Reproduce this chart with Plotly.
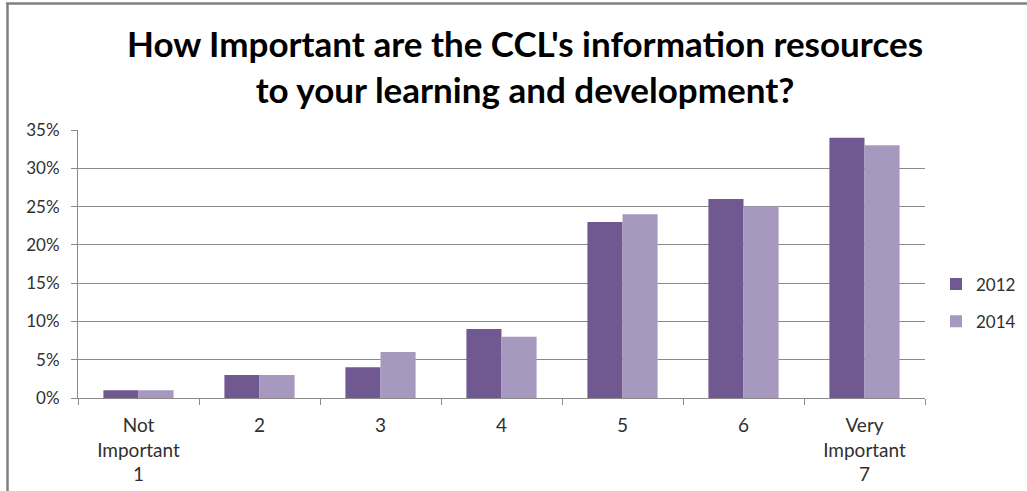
import plotly.graph_objects as go

categories = ["Not<br>Important<br>1", "2", "3", "4", "5", "6", "Very<br>Important<br>7"]
values_2012 = [1, 3, 4, 9, 23, 26, 34]
values_2014 = [1, 3, 6, 8, 24, 25, 33]
y_ticks = [0, 5, 10, 15, 20, 25, 30, 35]
y_tick_labels = [f"{v}%" for v in y_ticks]
title_text = "How Important are the CCL's information resources<br>to your learning and development?"

FONT = "Lato, Open Sans, sans-serif"
TXT = "#303030"

fig = go.Figure()
fig.add_trace(go.Bar(name="2012", x=categories, y=values_2012, marker_color="#705891",
                     marker_line_width=0, legendgroup="a"))
fig.add_trace(go.Bar(name="2014", x=categories, y=values_2014, marker_color="#A798C0",
                     marker_line_width=0, legendgroup="b"))

L, R, T, B = 78, 102, 130, 93
W, H = 1027, 491
pw, ph = W - L - R, H - T - B

fig.update_layout(
    width=W, height=H,
    margin=dict(l=L, r=R, t=T, b=B, pad=0, autoexpand=False),
    paper_bgcolor="white", plot_bgcolor="white",
    barmode="group", bargap=0.42, bargroupgap=0,
    font=dict(family=FONT, size=18, color=TXT),
    legend=dict(x=(936 - L) / pw, xanchor="left", y=(398 - 303) / ph, yanchor="middle",
                font=dict(size=17, color=TXT), tracegroupgap=12,
                itemwidth=30, bgcolor="rgba(0,0,0,0)"),
    showlegend=True,
)
fig.add_annotation(
    text=title_text, xref="paper", yref="paper",
    x=(525 - L) / pw, y=(398 - 66) / ph, xanchor="center", yanchor="middle",
    showarrow=False, align="center",
    font=dict(family=FONT, size=35, color="#000000", weight="bold"),
)
fig.update_yaxes(
    range=[0, 35], tickvals=y_ticks, ticktext=y_tick_labels,
    showgrid=True, gridcolor="#8A8A8A", gridwidth=1,
    showline=True, linecolor="#8A8A8A", linewidth=1,
    ticks="outside", ticklen=6, tickcolor="#8A8A8A", ticklabelstandoff=8,
    zeroline=False, tickfont=dict(size=17, color=TXT), automargin=False,
)
fig.update_xaxes(
    showline=True, linecolor="#8A8A8A", linewidth=1,
    ticks="outside", ticklen=6, tickcolor="#8A8A8A", tickson="boundaries",
    ticklabelstandoff=10,
    tickfont=dict(size=19, color=TXT), tickangle=0, automargin=False,
)
# chart border (left and top edges visible)
fig.add_shape(type="line", xref="paper", yref="paper",
              x0=(7.5 - L) / pw, x1=(7.5 - L) / pw, y0=(H - B - 3.5) / ph, y1=-B / ph - 0.01,
              line=dict(color="#7F7F7F", width=2.5))
fig.add_shape(type="line", xref="paper", yref="paper",
              x0=(6 - L) / pw, x1=(W - L) / pw + 0.01, y0=(H - B - 3.5) / ph, y1=(H - B - 3.5) / ph,
              line=dict(color="#7F7F7F", width=2.5))

fig.write_html("out.html", config={"displayModeBar": False},
               post_script="document.body.style.margin='0';document.body.style.overflow='hidden';")
